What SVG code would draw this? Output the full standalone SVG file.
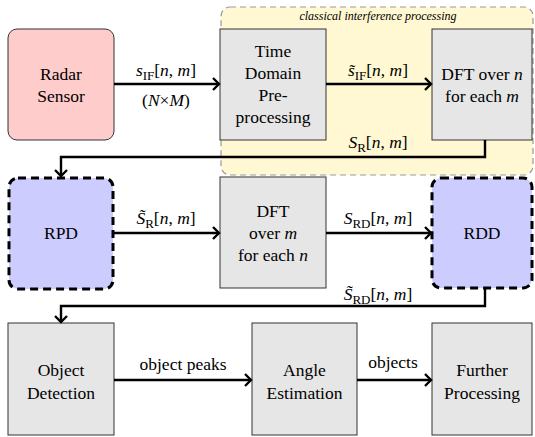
<svg xmlns="http://www.w3.org/2000/svg" width="535" height="437" viewBox="0 0 535 437">
<style>
text{font-family:"Liberation Serif","Times New Roman",serif;font-size:17.5px;fill:#000;text-anchor:middle}
.box{fill:#e6e6e6;stroke:#333;stroke-width:1}
.pink{fill:#ffcccc;stroke:#333;stroke-width:1}
.blue{fill:#ccccff;stroke:#000;stroke-width:3;stroke-dasharray:8,5}
.grp{fill:#fff8d2;stroke:#999;stroke-width:1.2;stroke-dasharray:6,4}
.arr{fill:none;stroke:#000;stroke-width:2.4;marker-end:url(#ah)}
.i{font-style:italic}
.sub{font-size:13px}
.cap{font-size:12px;font-style:italic}
</style>
<defs>
<marker id="ah" markerUnits="userSpaceOnUse" viewBox="-10 -8 12 16" markerWidth="12" markerHeight="16" refX="0" refY="0" orient="auto">
<path d="M-6,-6 L0,0 L-6,6" fill="none" stroke="#000" stroke-width="2.4"/>
</marker>
</defs>
<g id="group-classical">
<rect class="grp" x="221" y="7" width="312" height="168" rx="9"/>
<text class="cap" x="378" y="20">classical interference processing</text>
</g>
<g id="radar">
<rect class="pink" x="8" y="29" width="106" height="111" rx="9"/>
<text x="61" y="80">Radar</text>
<text x="61" y="102">Sensor</text>
</g>
<g id="tdp">
<rect class="box" x="220" y="29" width="106" height="111"/>
<text x="273" y="57">Time</text>
<text x="273" y="79">Domain</text>
<text x="273" y="101">Pre-</text>
<text x="273" y="123">processing</text>
</g>
<g id="dftn">
<rect class="box" x="432" y="29" width="100" height="111"/>
<text x="482" y="80">DFT over <tspan class="i">n</tspan></text>
<text x="482" y="102">for each <tspan class="i">m</tspan></text>
</g>
<g id="rpd">
<rect class="blue" x="9" y="178" width="104" height="111" rx="9"/>
<text x="61" y="239">RPD</text>
</g>
<g id="dftm">
<rect class="box" x="220" y="177" width="106" height="111"/>
<text x="273" y="217">DFT</text>
<text x="273" y="239">over <tspan class="i">m</tspan></text>
<text x="273" y="261">for each <tspan class="i">n</tspan></text>
</g>
<g id="rdd">
<rect class="blue" x="432" y="178" width="100" height="110" rx="9"/>
<text x="482" y="239">RDD</text>
</g>
<g id="objdet">
<rect class="box" x="8" y="323" width="106" height="112"/>
<text x="61" y="376">Object</text>
<text x="61" y="399">Detection</text>
</g>
<g id="angle">
<rect class="box" x="252" y="323" width="105" height="112"/>
<text x="304.5" y="376">Angle</text>
<text x="304.5" y="399">Estimation</text>
</g>
<g id="further">
<rect class="box" x="432" y="323" width="100" height="112"/>
<text x="482" y="376">Further</text>
<text x="482" y="399">Processing</text>
</g>
<g id="connectors">
<path class="arr" d="M114,84 H219"/>
<path class="arr" d="M326,84 H431"/>
<path class="arr" d="M485,140 V157 H61 V176"/>
<path class="arr" d="M113,233 H219"/>
<path class="arr" d="M326,233 H431"/>
<path class="arr" d="M485,288 V306 H61 V322"/>
<path class="arr" d="M114,380 H251"/>
<path class="arr" d="M357,380 H431"/>
<text x="166" y="76"><tspan class="i">s</tspan><tspan class="sub" dy="4">IF</tspan><tspan dy="-4">[</tspan><tspan class="i">n</tspan>, <tspan class="i">m</tspan>]</text>
<text x="166" y="106">(<tspan class="i">N</tspan>×<tspan class="i">M</tspan>)</text>
<text x="378" y="76"><tspan class="i">s̃</tspan><tspan class="sub" dy="4">IF</tspan><tspan dy="-4">[</tspan><tspan class="i">n</tspan>, <tspan class="i">m</tspan>]</text>
<text x="378" y="148"><tspan class="i">S</tspan><tspan class="sub" dy="4">R</tspan><tspan dy="-4">[</tspan><tspan class="i">n</tspan>, <tspan class="i">m</tspan>]</text>
<text x="166" y="224"><tspan class="i">S̃</tspan><tspan class="sub" dy="4">R</tspan><tspan dy="-4">[</tspan><tspan class="i">n</tspan>, <tspan class="i">m</tspan>]</text>
<text x="378" y="224"><tspan class="i">S</tspan><tspan class="sub" dy="4">RD</tspan><tspan dy="-4">[</tspan><tspan class="i">n</tspan>, <tspan class="i">m</tspan>]</text>
<text x="378" y="300"><tspan class="i">S̃</tspan><tspan class="sub" dy="4">RD</tspan><tspan dy="-4">[</tspan><tspan class="i">n</tspan>, <tspan class="i">m</tspan>]</text>
<text x="183" y="370">object peaks</text>
<text x="393" y="368">objects</text>
</g>
</svg>
